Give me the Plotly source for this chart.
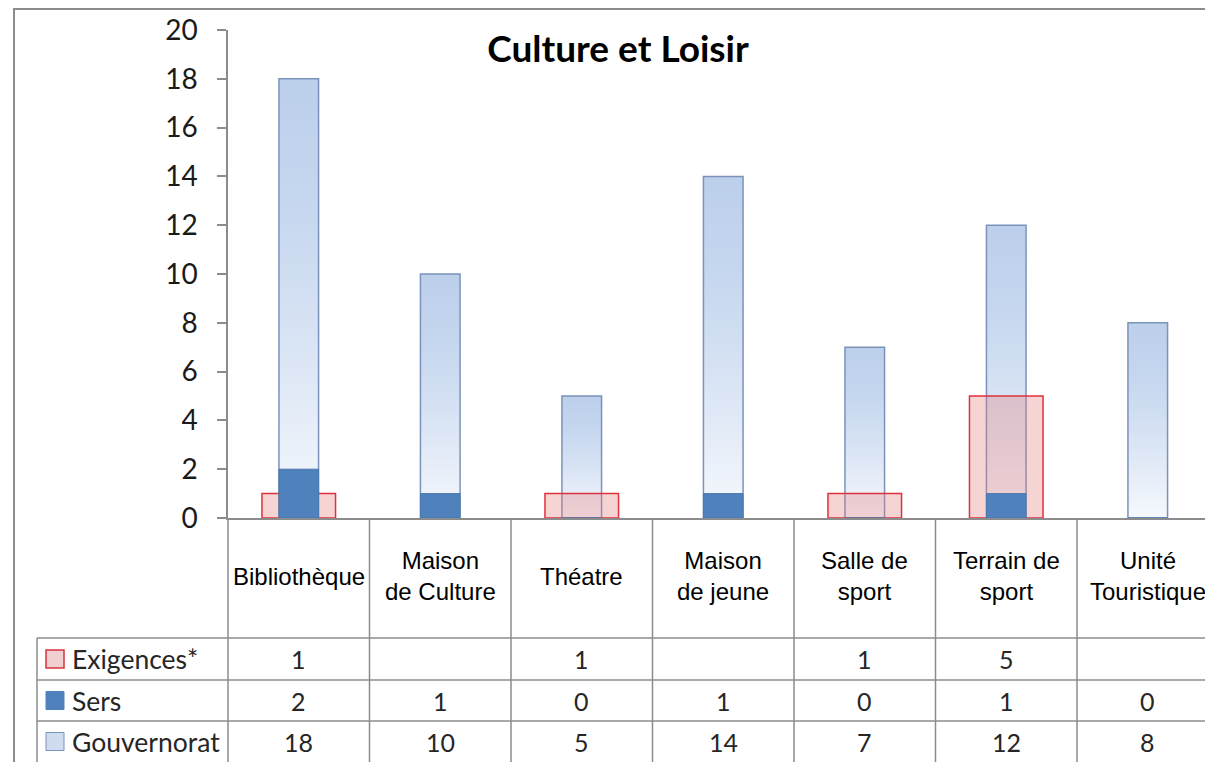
import plotly.graph_objects as go

# ---- data -------------------------------------------------------------
categories = [
    "Bibliothèque",
    "Maison<br>de Culture",
    "Théatre",
    "Maison<br>de jeune",
    "Salle de<br>sport",
    "Terrain de<br>sport",
    "Unité<br>Touristique",
]
exigences = [1, None, 1, None, 1, 5, None]
sers = [2, 1, 0, 1, 0, 1, 0]
gouvernorat = [18, 10, 5, 14, 7, 12, 8]
series_names = ["Exigences*", "Sers", "Gouvernorat"]
y_ticks = list(range(0, 21, 2))
title_text = "Culture et Loisir"

# ---- layout geometry (pixels) ----------------------------------------
W, H = 1205, 762
M_L, M_R, M_T, M_B = 228, 0, 30, 244
PLOT_W = W - M_L - M_R
PLOT_H = H - M_T - M_B
COL_W = 141.5                      # width of one category column
X_RANGE = [-0.5, -0.5 + PLOT_W / COL_W]
Y_RANGE = [0, 20]


def px(xpix):
    """figure pixel x -> paper x"""
    return (xpix - M_L) / PLOT_W


def py(ypix):
    """figure pixel y -> paper y"""
    return (H - M_B - ypix) / PLOT_H


GRID = "#8c8c8c"
NUM_FONT = "Lato, 'Open Sans', sans-serif"
CAT_FONT = "'Liberation Sans', Arial, sans-serif"

idx = list(range(len(categories)))
narrow, wide = 0.28, 0.52

fig = go.Figure()

# gradient fill of the Gouvernorat columns (base layer)
grad = [[0.0, "#f6f9fd"], [0.35, "#dce6f5"], [0.7, "#c6d7ef"], [1.0, "#bccfeb"]]
for i, v in zip(idx, gouvernorat):
    fig.add_trace(go.Scatter(
        x=[i - narrow / 2, i + narrow / 2, i + narrow / 2, i - narrow / 2, i - narrow / 2],
        y=[0, 0, v, v, 0],
        mode="lines", line=dict(width=0), fill="toself",
        fillgradient=dict(type="vertical", colorscale=grad),
        showlegend=False, hoverinfo="skip",
    ))

# bars on an overlaid subplot so they sit above the gradient fills
fig.add_trace(go.Bar(
    x=idx, y=gouvernorat, width=narrow, name=series_names[2],
    marker=dict(color="rgba(0,0,0,0)", line=dict(color="#7b93ba", width=1.5)),
    xaxis="x2", yaxis="y2", showlegend=False,
))
fig.add_trace(go.Bar(
    x=idx, y=exigences, width=wide, name=series_names[0],
    marker=dict(color="rgba(228,120,120,0.32)", line=dict(color="#e0303c", width=1.5)),
    xaxis="x2", yaxis="y2", showlegend=False,
))
fig.add_trace(go.Bar(
    x=idx, y=sers, width=narrow, name=series_names[1],
    marker=dict(color="#4f81bd", line=dict(color="#4a78b0", width=1)),
    xaxis="x2", yaxis="y2", showlegend=False,
))

# ---- data table below the axis ---------------------------------------
shapes = []
line = dict(color=GRID, width=1.5)

# outer chart frame
shapes.append(dict(type="rect", xref="paper", yref="paper",
                   x0=px(14), x1=1.2, y0=-0.7, y1=py(9),
                   line=dict(color=GRID, width=2), layer="below"))

# column separators
shapes.append(dict(type="line", xref="paper", yref="paper",
                   x0=0, x1=0, y0=0, y1=-0.6, line=line))
for k in range(1, len(categories) + 1):
    shapes.append(dict(type="line", xref="x", yref="paper",
                       x0=k - 0.5, x1=k - 0.5, y0=0, y1=-0.6, line=line))

row_edges = [638, 680, 721, 762]
for yy in row_edges[:-1]:
    shapes.append(dict(type="line", xref="paper", yref="paper",
                       x0=px(37), x1=1.05, y0=py(yy), y1=py(yy), line=line))
shapes.append(dict(type="line", xref="paper", yref="paper",
                   x0=px(37), x1=px(37), y0=py(638), y1=-0.6, line=line))

annotations = []
for i, label in zip(idx, categories):
    annotations.append(dict(x=i, xref="x", xanchor="center",
                            y=py(576), yref="paper", yanchor="middle",
                            text=label, showarrow=False,
                            font=dict(family=CAT_FONT, size=24, color="#000")))

rows = [exigences, sers, gouvernorat]
key_styles = [
    dict(fillcolor="#f1cfd0", line=dict(color="#d9323c", width=1.5)),
    dict(fillcolor="#4f81bd", line=dict(color="#4f81bd", width=1)),
    dict(fillcolor="#cfdcf0", line=dict(color="#7b93ba", width=1)),
]
for r, (name, values, key) in enumerate(zip(series_names, rows, key_styles)):
    yc = (row_edges[r] + row_edges[r + 1]) / 2
    for i, v in zip(idx, values):
        if v is None:
            continue
        annotations.append(dict(x=i, xref="x", xanchor="center",
                                y=py(yc), yref="paper", yanchor="middle",
                                text=str(v), showarrow=False,
                                font=dict(family=NUM_FONT, size=25, color="#262626")))
    annotations.append(dict(x=px(70), xref="paper", xanchor="left",
                            y=py(yc), yref="paper", yanchor="middle",
                            text=name, showarrow=False,
                            font=dict(family=NUM_FONT, size=26.5, color="#262626")))
    shapes.append(dict(type="rect", xref="paper", yref="paper",
                       x0=px(46), x1=px(64), y0=py(yc + 9), y1=py(yc - 9), **key))

fig.update_layout(
    width=W, height=H,
    margin=dict(l=M_L, r=M_R, t=M_T, b=M_B),
    paper_bgcolor="white", plot_bgcolor="white",
    barmode="overlay",
    title=dict(text="<b>" + title_text + "</b>", x=618 / W, xanchor="center",
               y=1 - 49 / H, yanchor="middle",
               font=dict(family=NUM_FONT, size=37, color="#000")),
    xaxis=dict(range=X_RANGE, showticklabels=False, ticks="", showgrid=False,
               zeroline=False, showline=True, linecolor=GRID, linewidth=1.5),
    yaxis=dict(range=Y_RANGE, tickvals=y_ticks, ticks="outside", ticklen=9,
               tickcolor=GRID, tickwidth=1.5, showline=True, linecolor=GRID,
               linewidth=1.5, showgrid=False, zeroline=False,
               ticklabelstandoff=14,
               tickfont=dict(family=NUM_FONT, size=28, color="#1a1a1a")),
    xaxis2=dict(range=X_RANGE, overlaying="x", visible=False),
    yaxis2=dict(range=Y_RANGE, overlaying="y", visible=False),
    shapes=shapes,
    annotations=annotations,
    showlegend=False,
)

fig.write_html("out.html")
